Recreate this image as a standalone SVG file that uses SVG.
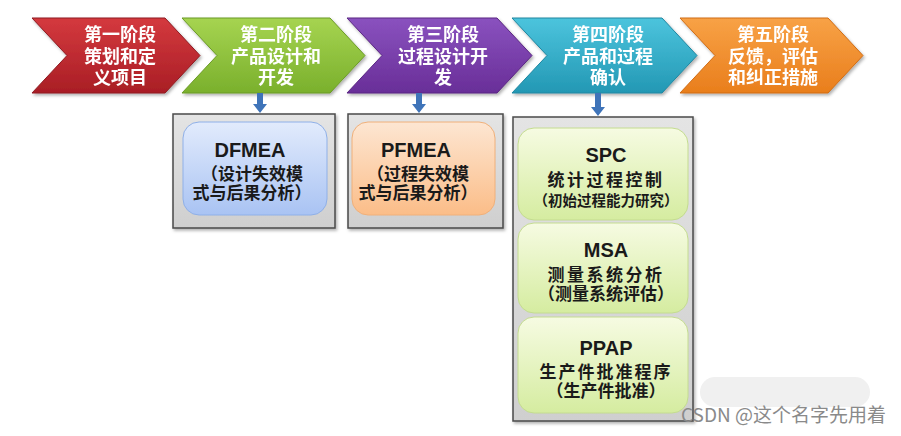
<svg xmlns="http://www.w3.org/2000/svg" width="901" height="436" viewBox="0 0 901 436">
<style>
.ct{font-family:"Noto Sans CJK SC","Noto Sans",sans-serif;font-size:18px;font-weight:bold;fill:#fff;text-anchor:middle}
.tt{font-family:"Liberation Sans","Noto Sans",sans-serif;font-size:20px;font-weight:bold;fill:#1a1a1a;text-anchor:middle}
.zh{font-family:"Noto Sans CJK SC",sans-serif;font-size:17px;font-weight:bold;fill:#1a1a1a;text-anchor:middle}
.sm{font-family:"Noto Sans CJK SC",sans-serif;font-size:14.5px;font-weight:bold;fill:#1a1a1a;text-anchor:middle}
.outer{fill:url(#gGray);stroke:#4a4a4a;stroke-width:1.5}
.arr{fill:#3f74b9}
.chev{stroke-width:1}
</style>
<defs>
<linearGradient id="gRed" x1="0" y1="0" x2="0" y2="1"><stop offset="0" stop-color="#d4393e"/><stop offset="1" stop-color="#a91e25"/></linearGradient>
<linearGradient id="gGreen" x1="0" y1="0" x2="0" y2="1"><stop offset="0" stop-color="#a6d451"/><stop offset="1" stop-color="#7ab02c"/></linearGradient>
<linearGradient id="gPurple" x1="0" y1="0" x2="0" y2="1"><stop offset="0" stop-color="#8a52bf"/><stop offset="1" stop-color="#692e98"/></linearGradient>
<linearGradient id="gTeal" x1="0" y1="0" x2="0" y2="1"><stop offset="0" stop-color="#4cc4dd"/><stop offset="1" stop-color="#2398b4"/></linearGradient>
<linearGradient id="gOrange" x1="0" y1="0" x2="0" y2="1"><stop offset="0" stop-color="#f8a246"/><stop offset="1" stop-color="#e97e1c"/></linearGradient>
<linearGradient id="gGray" x1="0" y1="0" x2="0" y2="1"><stop offset="0" stop-color="#e4e4e4"/><stop offset="1" stop-color="#cfcfcf"/></linearGradient>
<linearGradient id="gBlue" x1="0" y1="0" x2="0" y2="1"><stop offset="0" stop-color="#e2ebfc"/><stop offset="1" stop-color="#a9c3f3"/></linearGradient>
<linearGradient id="gPeach" x1="0" y1="0" x2="0" y2="1"><stop offset="0" stop-color="#fde6d2"/><stop offset="1" stop-color="#fbbd88"/></linearGradient>
<linearGradient id="gLime" x1="0" y1="0" x2="0" y2="1"><stop offset="0" stop-color="#f6fbe2"/><stop offset="1" stop-color="#d5eca0"/></linearGradient>
<filter id="sh" x="-10%" y="-10%" width="130%" height="130%"><feDropShadow dx="1.5" dy="2" stdDeviation="1.5" flood-color="#000" flood-opacity="0.3"/></filter>
</defs>
<rect width="901" height="436" fill="#ffffff"/>

<g id="stage1" filter="url(#sh)">
<path class="chev" d="M32,18 L165,18 L200,55.5 L165,93 L32,93 L67,55.5 Z" fill="url(#gRed)" stroke="#8e1a20"/>
<text class="ct" x="120" y="41">第一阶段</text>
<text class="ct" x="120" y="63">策划和定</text>
<text class="ct" x="120" y="84">义项目</text>
</g>
<g id="stage2" filter="url(#sh)">
<path class="chev" d="M182,18 L330,18 L365,55.5 L330,93 L182,93 L217,55.5 Z" fill="url(#gGreen)" stroke="#6a9a26"/>
<text class="ct" x="276" y="41">第二阶段</text>
<text class="ct" x="276" y="63">产品设计和</text>
<text class="ct" x="276" y="84">开发</text>
</g>
<g id="stage3" filter="url(#sh)">
<path class="chev" d="M347,18 L497,18 L532,55.5 L497,93 L347,93 L382,55.5 Z" fill="url(#gPurple)" stroke="#5a2682"/>
<text class="ct" x="443" y="41">第三阶段</text>
<text class="ct" x="443" y="63">过程设计开</text>
<text class="ct" x="443" y="84">发</text>
</g>
<g id="stage4" filter="url(#sh)">
<path class="chev" d="M512,18 L662,18 L697,55.5 L662,93 L512,93 L547,55.5 Z" fill="url(#gTeal)" stroke="#1e86a0"/>
<text class="ct" x="608" y="41">第四阶段</text>
<text class="ct" x="608" y="63">产品和过程</text>
<text class="ct" x="608" y="84">确认</text>
</g>
<g id="stage5" filter="url(#sh)">
<path class="chev" d="M680,18 L828,18 L863,55.5 L828,93 L680,93 L715,55.5 Z" fill="url(#gOrange)" stroke="#cf6c14"/>
<text class="ct" x="773" y="41">第五阶段</text>
<text class="ct" x="773" y="63">反馈，评估</text>
<text class="ct" x="773" y="84">和纠正措施</text>
</g>

<g id="connectors">
<path class="arr" d="M257,93 L263,93 L263,104 L267,104 L260,113 L253,104 L257,104 Z"/>
<path class="arr" d="M416,93 L422,93 L422,104 L426,104 L419,113 L412,104 L416,104 Z"/>
<path class="arr" d="M595,93 L601,93 L601,107 L605,107 L598,116 L591,107 L595,107 Z"/>
</g>

<g id="dfmea">
<rect class="outer" x="173" y="114" width="162" height="114" filter="url(#sh)"/>
<rect x="183" y="122" width="144" height="93" rx="16" fill="url(#gBlue)" stroke="#8fb0e8" stroke-width="1"/>
<text class="tt" x="250" y="157">DFMEA</text>
<text class="zh" x="252" y="180">（设计失效模</text>
<text class="zh" x="252" y="199">式与后果分析）</text>
</g>
<g id="pfmea">
<rect class="outer" x="348" y="114" width="155" height="114" filter="url(#sh)"/>
<rect x="352" y="122" width="143" height="93" rx="16" fill="url(#gPeach)" stroke="#f0b07a" stroke-width="1"/>
<text class="tt" x="416" y="157">PFMEA</text>
<text class="zh" x="418" y="180">（过程失效模</text>
<text class="zh" x="418" y="199">式与后果分析）</text>
</g>
<g id="stage4box">
<rect class="outer" x="513" y="117" width="180" height="304" filter="url(#sh)"/>
<g id="spc">
<rect x="518" y="128" width="170" height="92" rx="16" fill="url(#gLime)" stroke="#c4dc90" stroke-width="1"/>
<text class="tt" x="606" y="162">SPC</text>
<text class="zh" x="606" y="186" letter-spacing="2.5">统计过程控制</text>
<text class="sm" x="606" y="206">（初始过程能力研究）</text>
</g>
<g id="msa">
<rect x="518" y="223" width="170" height="90" rx="16" fill="url(#gLime)" stroke="#c4dc90" stroke-width="1"/>
<text class="tt" x="606" y="257">MSA</text>
<text class="zh" x="606" y="281" letter-spacing="2.5">测量系统分析</text>
<text class="zh" x="606" y="300" font-size="16">（测量系统评估）</text>
</g>
<g id="ppap">
<rect x="518" y="317" width="170" height="96" rx="16" fill="url(#gLime)" stroke="#c4dc90" stroke-width="1"/>
<text class="tt" x="606" y="355">PPAP</text>
<text class="zh" x="606" y="378" letter-spacing="2">生产件批准程序</text>
<text class="zh" x="606" y="397" font-size="16">（生产件批准）</text>
</g>
</g>

<rect x="700" y="377" width="170" height="30" rx="15" fill="#f0f0f0"/>
<text x="886" y="422" text-anchor="end" font-family="'Noto Sans CJK SC',sans-serif" font-size="19" fill="#8a8a8a">CSDN @这个名字先用着</text>
</svg>
